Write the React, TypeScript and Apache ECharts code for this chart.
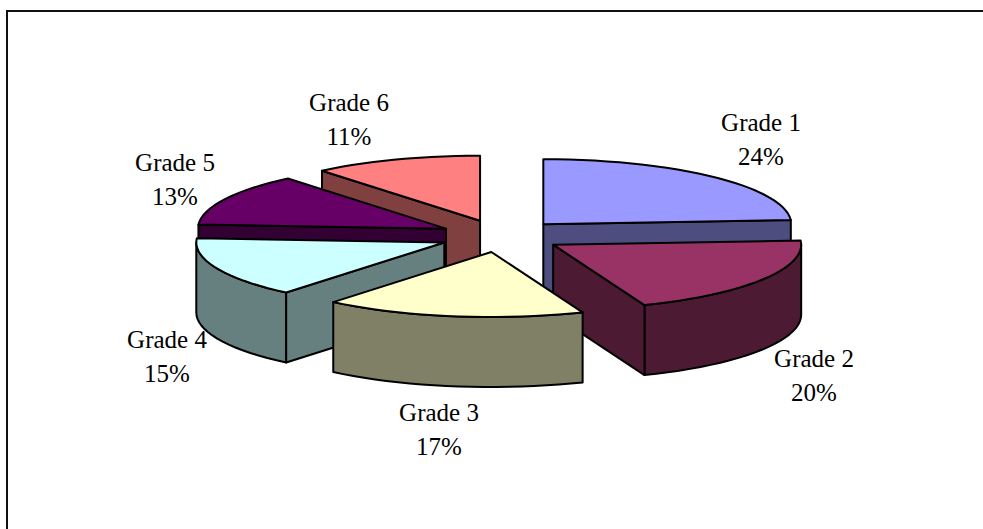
import React, { useEffect, useRef } from "react";
import * as echarts from "echarts";

const grades = ["Grade 1", "Grade 2", "Grade 3", "Grade 4", "Grade 5", "Grade 6"];
const shares = [24, 20, 17, 15, 13, 11];
const topColors = ["#9999FF", "#993366", "#FFFFCC", "#CCFFFF", "#660066", "#FF8080"];
const wallColors = ["#4D4D80", "#4D1A33", "#808066", "#668080", "#330033", "#804040"];
// Painter's order: the slices nearest the viewer go on last.
const paintOrder = [2, 4, 5, 3, 1, 0];
const labelCentres = [
  [761, 139],
  [814, 375],
  [439, 429],
  [167, 356],
  [175, 179],
  [349, 119],
];

const CX = 501;
const CY = 236;
const RX = 248;
const RY = 65;
const DEPTH = 70;
const EXPLODE = 61.8;
const FONT = "Liberation Serif";
const STROKE = { stroke: "#000", lineWidth: 2, lineJoin: "round" as const };

const rad = (d: number) => (d * Math.PI) / 180;
const total = shares.reduce((a, b) => a + b, 0);

// Points along the rim of an ellipse, angles clockwise from twelve o'clock.
function rim(ax: number, ay: number, from: number, to: number) {
  const pts: number[][] = [];
  const steps = Math.max(2, Math.ceil(Math.abs(to - from) / 3));
  for (let i = 0; i <= steps; i++) {
    const t = rad(from + ((to - from) * i) / steps);
    pts.push([ax + RX * Math.sin(t), ay - RY * Math.cos(t)]);
  }
  return pts;
}

const sunk = (pts: number[][]) => pts.map(([x, y]) => [x, y + DEPTH]);

function renderSlice(_: unknown, api: any) {
  const index = api.value(0) as number;
  const before = shares.slice(0, index).reduce((a, b) => a + b, 0);
  const start = (before / total) * 360;
  const end = start + ((api.value(1) as number) / total) * 360;
  const mid = (start + end) / 2;
  const ax = CX + EXPLODE * Math.sin(rad(mid));
  const ay = CY - EXPLODE * (RY / RX) * Math.cos(rad(mid));
  const order = paintOrder[index] * 10;
  const children: any[] = [];

  const wall = (points: number[][], z: number) =>
    children.push({
      type: "polygon",
      z2: order + z,
      shape: { points },
      style: { fill: wallColors[index], ...STROKE },
    });

  // The curved outer wall only shows on the front half of the ellipse.
  const a = Math.max(start, 90);
  const b = Math.min(end, 270);
  if (b > a) {
    const edge = rim(ax, ay, a, b);
    wall([...edge, ...sunk(edge).reverse()], 1);
  }
  // A radial wall faces the viewer when the slice lies above it.
  if (start > 180 && start < 360) {
    const p = rim(ax, ay, start, start + 1)[0];
    wall([[ax, ay], p, [p[0], p[1] + DEPTH], [ax, ay + DEPTH]], 2);
  }
  if (end > 0 && end < 180) {
    const p = rim(ax, ay, end, end + 1)[0];
    wall([[ax, ay], p, [p[0], p[1] + DEPTH], [ax, ay + DEPTH]], 2);
  }
  children.push({
    type: "polygon",
    z2: order + 3,
    shape: { points: [[ax, ay], ...rim(ax, ay, start, end)] },
    style: { fill: topColors[index], ...STROKE },
  });
  const [lx, ly] = labelCentres[index];
  children.push({
    type: "text",
    z2: 200,
    style: {
      x: lx,
      y: ly,
      text: `${grades[index]}\n${shares[index]}%`,
      font: `25px "${FONT}"`,
      lineHeight: 34,
      fill: "#000",
      align: "center",
      verticalAlign: "middle",
    },
  });
  return { type: "group", children };
}

export default function App() {
  const ref = useRef<HTMLDivElement>(null);
  useEffect(() => {
    const chart = echarts.init(ref.current!, undefined, { renderer: "svg" });
    chart.setOption({
      animation: false,
      backgroundColor: "#fff",
      graphic: [
        {
          type: "rect",
          shape: { x: 7, y: 11, width: 1100, height: 700 },
          style: { fill: "none", stroke: "#111", lineWidth: 2 },
          silent: true,
        },
      ],
      series: [
        {
          type: "custom",
          coordinateSystem: "none",
          renderItem: renderSlice,
          data: shares.map((v, i) => [i, v]),
        },
      ],
    });
    return () => chart.dispose();
  }, []);
  return <div ref={ref} style={{ position: "fixed", left: 0, top: 0, width: 983, height: 529 }} />;
}
